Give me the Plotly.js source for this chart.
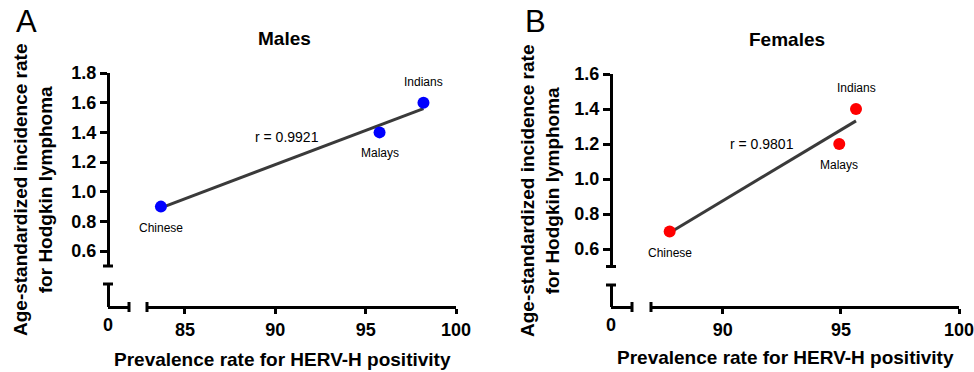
<!DOCTYPE html>
<html>
<head>
<meta charset="utf-8">
<script src="https://cdn.plot.ly/plotly-3.0.1.min.js"></script>
<style>html,body{margin:0;padding:0;background:#fff;}#chart{width:974px;height:372px;}</style>
</head>
<body>
<div id="chart"></div>
<script>
// ---- data ----
var groups = ['Chinese', 'Malays', 'Indians'];
var maleHERV = [83.67, 95.77, 98.2];
var maleRate = [0.9, 1.4, 1.6];
var femaleHERV = [87.75, 94.93, 95.64];
var femaleRate = [0.7, 1.2, 1.4];
var maleR = 'r = 0.9921';
var femaleR = 'r = 0.9801';
var maleYTicks = [0.6, 0.8, 1.0, 1.2, 1.4, 1.6, 1.8];
var femaleYTicks = [0.6, 0.8, 1.0, 1.2, 1.4, 1.6];
var maleXTicks = [85, 90, 95, 100];
var femaleXTicks = [90, 95, 100];

// ---- helpers ----
var W = 974, H = 372;
function X(p) { return p / W; }
function Y(p) { return 1 - p / H; }
function fit(xs, ys) {
  var n = xs.length, mx = 0, my = 0;
  for (var i = 0; i < n; i++) { mx += xs[i]; my += ys[i]; }
  mx /= n; my /= n;
  var sxy = 0, sxx = 0;
  for (var i = 0; i < n; i++) { sxy += (xs[i] - mx) * (ys[i] - my); sxx += (xs[i] - mx) * (xs[i] - mx); }
  var b = sxy / sxx, a = my - b * mx;
  var x0 = Math.min.apply(null, xs), x1 = Math.max.apply(null, xs);
  return { x: [x0, x1], y: [a + b * x0, a + b * x1] };
}
var FONT = 'Arial, "Liberation Sans", Helvetica, sans-serif';
var tickFont = { family: FONT, size: 18, color: '#000', weight: 'bold' };

var mFit = fit(maleHERV, maleRate);
var fFit = fit(femaleHERV, femaleRate);

var traces = [
  { x: mFit.x, y: mFit.y, xaxis: 'x', yaxis: 'y', mode: 'lines', line: { color: '#3a3a3a', width: 3 }, hoverinfo: 'skip' },
  { x: maleHERV, y: maleRate, xaxis: 'x', yaxis: 'y', mode: 'markers', marker: { color: '#0000ff', size: 12 } },
  { x: [], y: [], xaxis: 'x2', yaxis: 'y2', mode: 'markers' },
  { x: fFit.x, y: fFit.y, xaxis: 'x3', yaxis: 'y3', mode: 'lines', line: { color: '#3a3a3a', width: 3 }, hoverinfo: 'skip' },
  { x: femaleHERV, y: femaleRate, xaxis: 'x3', yaxis: 'y3', mode: 'markers', marker: { color: '#ff0000', size: 12 } },
  { x: [], y: [], xaxis: 'x4', yaxis: 'y4', mode: 'markers' }
];

function tickText(v) { return v.map(function (t) { return t.toFixed(1); }); }

var axLine = { showline: true, linecolor: '#000', linewidth: 3, showgrid: false, zeroline: false, fixedrange: true, ticklabeloverflow: 'allow' };
function ax(o) { var r = {}; for (var k in axLine) r[k] = axLine[k]; for (var k in o) r[k] = o[k]; return r; }

var layout = {
  width: W, height: H,
  margin: { l: 0, r: 0, t: 0, b: 0 },
  paper_bgcolor: '#fff', plot_bgcolor: 'rgba(0,0,0,0)',
  showlegend: false,
  // Panel A
  xaxis: ax({ domain: [X(147), X(456)], range: [82.9, 100], anchor: 'free', position: Y(307),
    tickvals: maleXTicks, ticks: 'outside', ticklen: 5, tickwidth: 3, tickcolor: '#000', tickfont: tickFont }),
  xaxis2: ax({ domain: [X(108), X(129)], range: [0, 1], anchor: 'free', position: Y(307),
    tickvals: [0], ticks: '', tickfont: tickFont }),
  yaxis: ax({ domain: [Y(266), Y(73)], range: [0.5, 1.8], anchor: 'free', position: X(108),
    tickvals: maleYTicks, ticktext: tickText(maleYTicks), ticks: 'outside', ticklen: 7, tickwidth: 3, tickcolor: '#000', tickfont: tickFont }),
  yaxis2: ax({ domain: [Y(307), Y(284)], range: [0, 1], anchor: 'free', position: X(108), showticklabels: false, ticks: '' }),
  // Panel B
  xaxis3: ax({ domain: [X(651), X(959)], range: [86.96, 100], anchor: 'free', position: Y(307),
    tickvals: femaleXTicks, ticks: 'outside', ticklen: 5, tickwidth: 3, tickcolor: '#000', tickfont: tickFont }),
  xaxis4: ax({ domain: [X(611), X(632)], range: [0, 1], anchor: 'free', position: Y(307),
    tickvals: [0], ticks: '', tickfont: tickFont }),
  yaxis3: ax({ domain: [Y(266.5), Y(74)], range: [0.5, 1.6], anchor: 'free', position: X(611),
    tickvals: femaleYTicks, ticktext: tickText(femaleYTicks), ticks: 'outside', ticklen: 7, tickwidth: 3, tickcolor: '#000', tickfont: tickFont }),
  yaxis4: ax({ domain: [Y(307), Y(285)], range: [0, 1], anchor: 'free', position: X(611), showticklabels: false, ticks: '' }),
  shapes: [],
  annotations: []
};

function hcap(cx, cy) { layout.shapes.push({ type: 'line', xref: 'paper', yref: 'paper', x0: X(cx - 5), x1: X(cx + 5), y0: Y(cy), y1: Y(cy), line: { color: '#000', width: 3 } }); }
function vcap(cx, cy) { layout.shapes.push({ type: 'line', xref: 'paper', yref: 'paper', x0: X(cx), x1: X(cx), y0: Y(cy - 5), y1: Y(cy + 5), line: { color: '#000', width: 3 } }); }
// caps at axis breaks
hcap(108, 266); hcap(108, 284); vcap(129, 307); vcap(147, 307);
hcap(611, 266.5); hcap(611, 285); vcap(632, 307); vcap(651, 307);

function txt(t, px, py, size, opts) {
  var a = { text: t, xref: 'paper', yref: 'paper', x: X(px), y: Y(py), xanchor: 'center', yanchor: 'middle', showarrow: false,
    font: { family: FONT, size: size, color: '#000' } };
  for (var k in (opts || {})) a[k] = opts[k];
  layout.annotations.push(a);
}
function bold(size) { return { family: FONT, size: size, color: '#000', weight: 'bold' }; }
// panel letters
txt('A', 26, 22, 31);
txt('B', 535, 22, 31);
// titles
txt('Males', 284, 38, 19, { font: bold(19) });
txt('Females', 787, 39, 19, { font: bold(19) });
// axis titles
var xTitle = 'Prevalence rate for HERV-H positivity';
var yTitle = 'Age-standardized incidence rate<br>for Hodgkin lymphoma';
txt(xTitle, 282, 359, 19, { font: bold(19) });
txt(xTitle, 785, 357, 19, { font: bold(19) });
txt(yTitle, 33, 190, 19, { textangle: -90, font: bold(19) });
txt(yTitle, 540, 191, 19, { textangle: -90, font: bold(19) });
// r values
txt(maleR, 287, 137, 14);
txt(femaleR, 762, 144, 14);

// point labels
var shifts = [-21, -21, 21];
function labels(xs, ys, xr, yr) {
  for (var i = 0; i < groups.length; i++) {
    layout.annotations.push({ text: groups[i], x: xs[i], y: ys[i], xref: xr, yref: yr, showarrow: false, xanchor: 'center', yanchor: 'middle',
      yshift: shifts[i], font: { family: FONT, size: 12, color: '#000' } });
  }
}
labels(maleHERV, maleRate, 'x', 'y');
labels(femaleHERV, femaleRate, 'x3', 'y3');

Plotly.newPlot('chart', traces, layout, { staticPlot: true, displayModeBar: false });
</script>
</body>
</html>
